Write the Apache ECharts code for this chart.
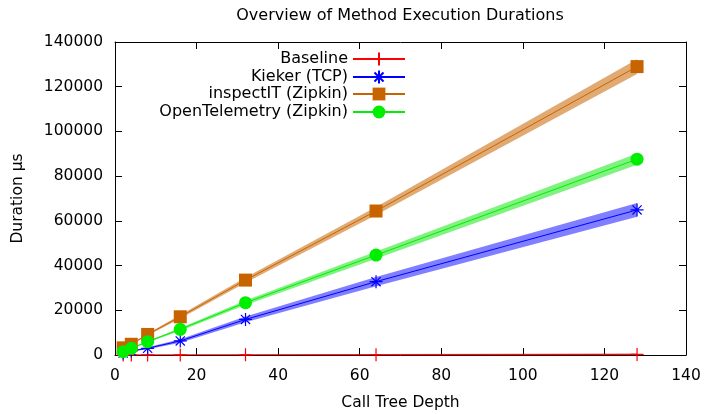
<!DOCTYPE html>
<html>
<head>
<meta charset="utf-8">
<script src="https://cdn.jsdelivr.net/npm/echarts@6/dist/echarts.min.js"></script>
<style>html,body{margin:0;padding:0;background:#fff}#c{width:704px;height:414px}</style>
</head>
<body>
<div id="c"></div>
<script>
// ---- data ----
var depths = [2, 4, 8, 16, 32, 64, 128];
var baseline = [5, 8, 15, 30, 60, 120, 240];
var baselineDev = [60, 80, 100, 150, 200, 300, 400];
var kieker = [900, 1800, 3000, 6300, 15900, 32800, 64900];
var kiekerDev = [150, 250, 450, 800, 1300, 2100, 3100];
var inspectit = [3200, 4800, 9200, 17100, 33500, 64400, 129000];
var inspectitDev = [150, 250, 450, 800, 1200, 1800, 3300];
var otel = [1500, 3000, 5950, 11500, 23400, 44700, 87600];
var otelDev = [120, 200, 350, 600, 1000, 1600, 2500];
var xTicks = [0, 20, 40, 60, 80, 100, 120, 140];
var yTicks = [0, 20000, 40000, 60000, 80000, 100000, 120000, 140000];

var FONT = 'DejaVu Sans';
function pairs(vals) { return depths.map(function (x, i) { return [x, vals[i]]; }); }

function band(id, vals, dev, color) {
  var rows = depths.map(function (x, i) { return [x, vals[i] - dev[i], vals[i] + dev[i]]; });
  return {
    type: 'custom', name: id + '_band', silent: true, z: 1,
    encode: { x: 0, y: [1, 2] },
    data: rows,
    renderItem: function (params, api) {
      if (params.dataIndex !== 0) return null;
      var pts = [];
      for (var j = 0; j < rows.length; j++) pts.push(api.coord([rows[j][0], rows[j][2]]));
      for (var k = rows.length - 1; k >= 0; k--) pts.push(api.coord([rows[k][0], rows[k][1]]));
      return { type: 'polygon', shape: { points: pts }, style: { fill: color } };
    }
  };
}
function mainLine(name, vals, color, symbol, size, bw) {
  return { type: 'line', name: name, data: pairs(vals), symbol: symbol, symbolSize: size,
    lineStyle: { color: color, width: 1 },
    itemStyle: { color: color, borderColor: color, borderWidth: bw, opacity: 1 },
    z: 3 };
}

var plusPath = 'path://M-1,0L1,0M0,-1L0,1';
var starPath = 'path://M0,-1L0,1M-1,0L1,0M-0.707,-0.707L0.707,0.707M-0.707,0.707L0.707,-0.707';

var series = [
  band('b', baseline, baselineDev, 'rgba(200,0,0,0.55)'),
  band('k', kieker, kiekerDev, 'rgba(0,0,255,0.5)'),
  band('i', inspectit, inspectitDev, 'rgba(200,100,0,0.55)'),
  band('o', otel, otelDev, 'rgba(0,230,0,0.5)'),
  mainLine('Baseline', baseline, '#ff0000', plusPath, 13, 1.2),
  mainLine('Kieker (TCP)', kieker, '#0000ff', starPath, 13, 1.2),
  mainLine('inspectIT (Zipkin)', inspectit, '#c86400', 'rect', 13, 0),
  mainLine('OpenTelemetry (Zipkin)', otel, '#00ee00', 'circle', 13, 0)
];

var legendNames = ['Baseline', 'Kieker (TCP)', 'inspectIT (Zipkin)', 'OpenTelemetry (Zipkin)'];
var legendTops = [51, 69, 86, 104];
var legends = legendNames.map(function (n, i) {
  return { data: [n], right: 298, top: legendTops[i], orient: 'vertical', align: 'right',
    padding: 0, itemWidth: 52, itemHeight: 16, selectedMode: false,
    textStyle: { fontFamily: FONT, fontSize: 16, color: '#000' } };
});

var axisCommon = {
  axisLine: { show: true, onZero: false, lineStyle: { color: '#000', width: 1 } },
  axisTick: { show: true, inside: true, length: 7, lineStyle: { color: '#000' } },
  splitLine: { show: false }
};
function plain(v) { return String(v); }

var chart = echarts.init(document.getElementById('c'), null, { renderer: 'canvas' });
chart.setOption({
  animation: false,
  backgroundColor: '#fff',
  title: { text: 'Overview of Method Execution Durations', left: 400, top: 8, textAlign: 'center', padding: 0,
    textStyle: { fontFamily: FONT, fontSize: 16, fontWeight: 'normal', color: '#000' } },
  legend: legends,
  grid: { left: 115, right: 18, top: 42, bottom: 59, containLabel: false, outerBoundsMode: 'none' },
  xAxis: [
    Object.assign({ type: 'value', position: 'bottom', min: xTicks[0], max: xTicks[xTicks.length - 1], interval: 20,
      name: 'Call Tree Depth', nameLocation: 'middle', nameGap: 40,
      nameTextStyle: { fontFamily: FONT, fontSize: 15.5, color: '#000' },
      axisLabel: { fontFamily: FONT, fontSize: 15.5, color: '#000', margin: 13, formatter: plain } }, axisCommon),
    Object.assign({ type: 'value', position: 'top', min: xTicks[0], max: xTicks[xTicks.length - 1], interval: 20,
      axisLabel: { show: false } }, axisCommon)
  ],
  yAxis: [
    Object.assign({ type: 'value', position: 'left', min: yTicks[0], max: yTicks[yTicks.length - 1], interval: 20000,
      name: 'Duration µs', nameLocation: 'middle', nameGap: 89, nameRotate: 90,
      nameTextStyle: { fontFamily: FONT, fontSize: 15.5, color: '#000' },
      axisLabel: { fontFamily: FONT, fontSize: 15.5, color: '#000', margin: 12, formatter: plain } }, axisCommon),
    Object.assign({ type: 'value', position: 'right', min: yTicks[0], max: yTicks[yTicks.length - 1], interval: 20000,
      axisLabel: { show: false } }, axisCommon)
  ],
  series: series
});
</script>
</body>
</html>
